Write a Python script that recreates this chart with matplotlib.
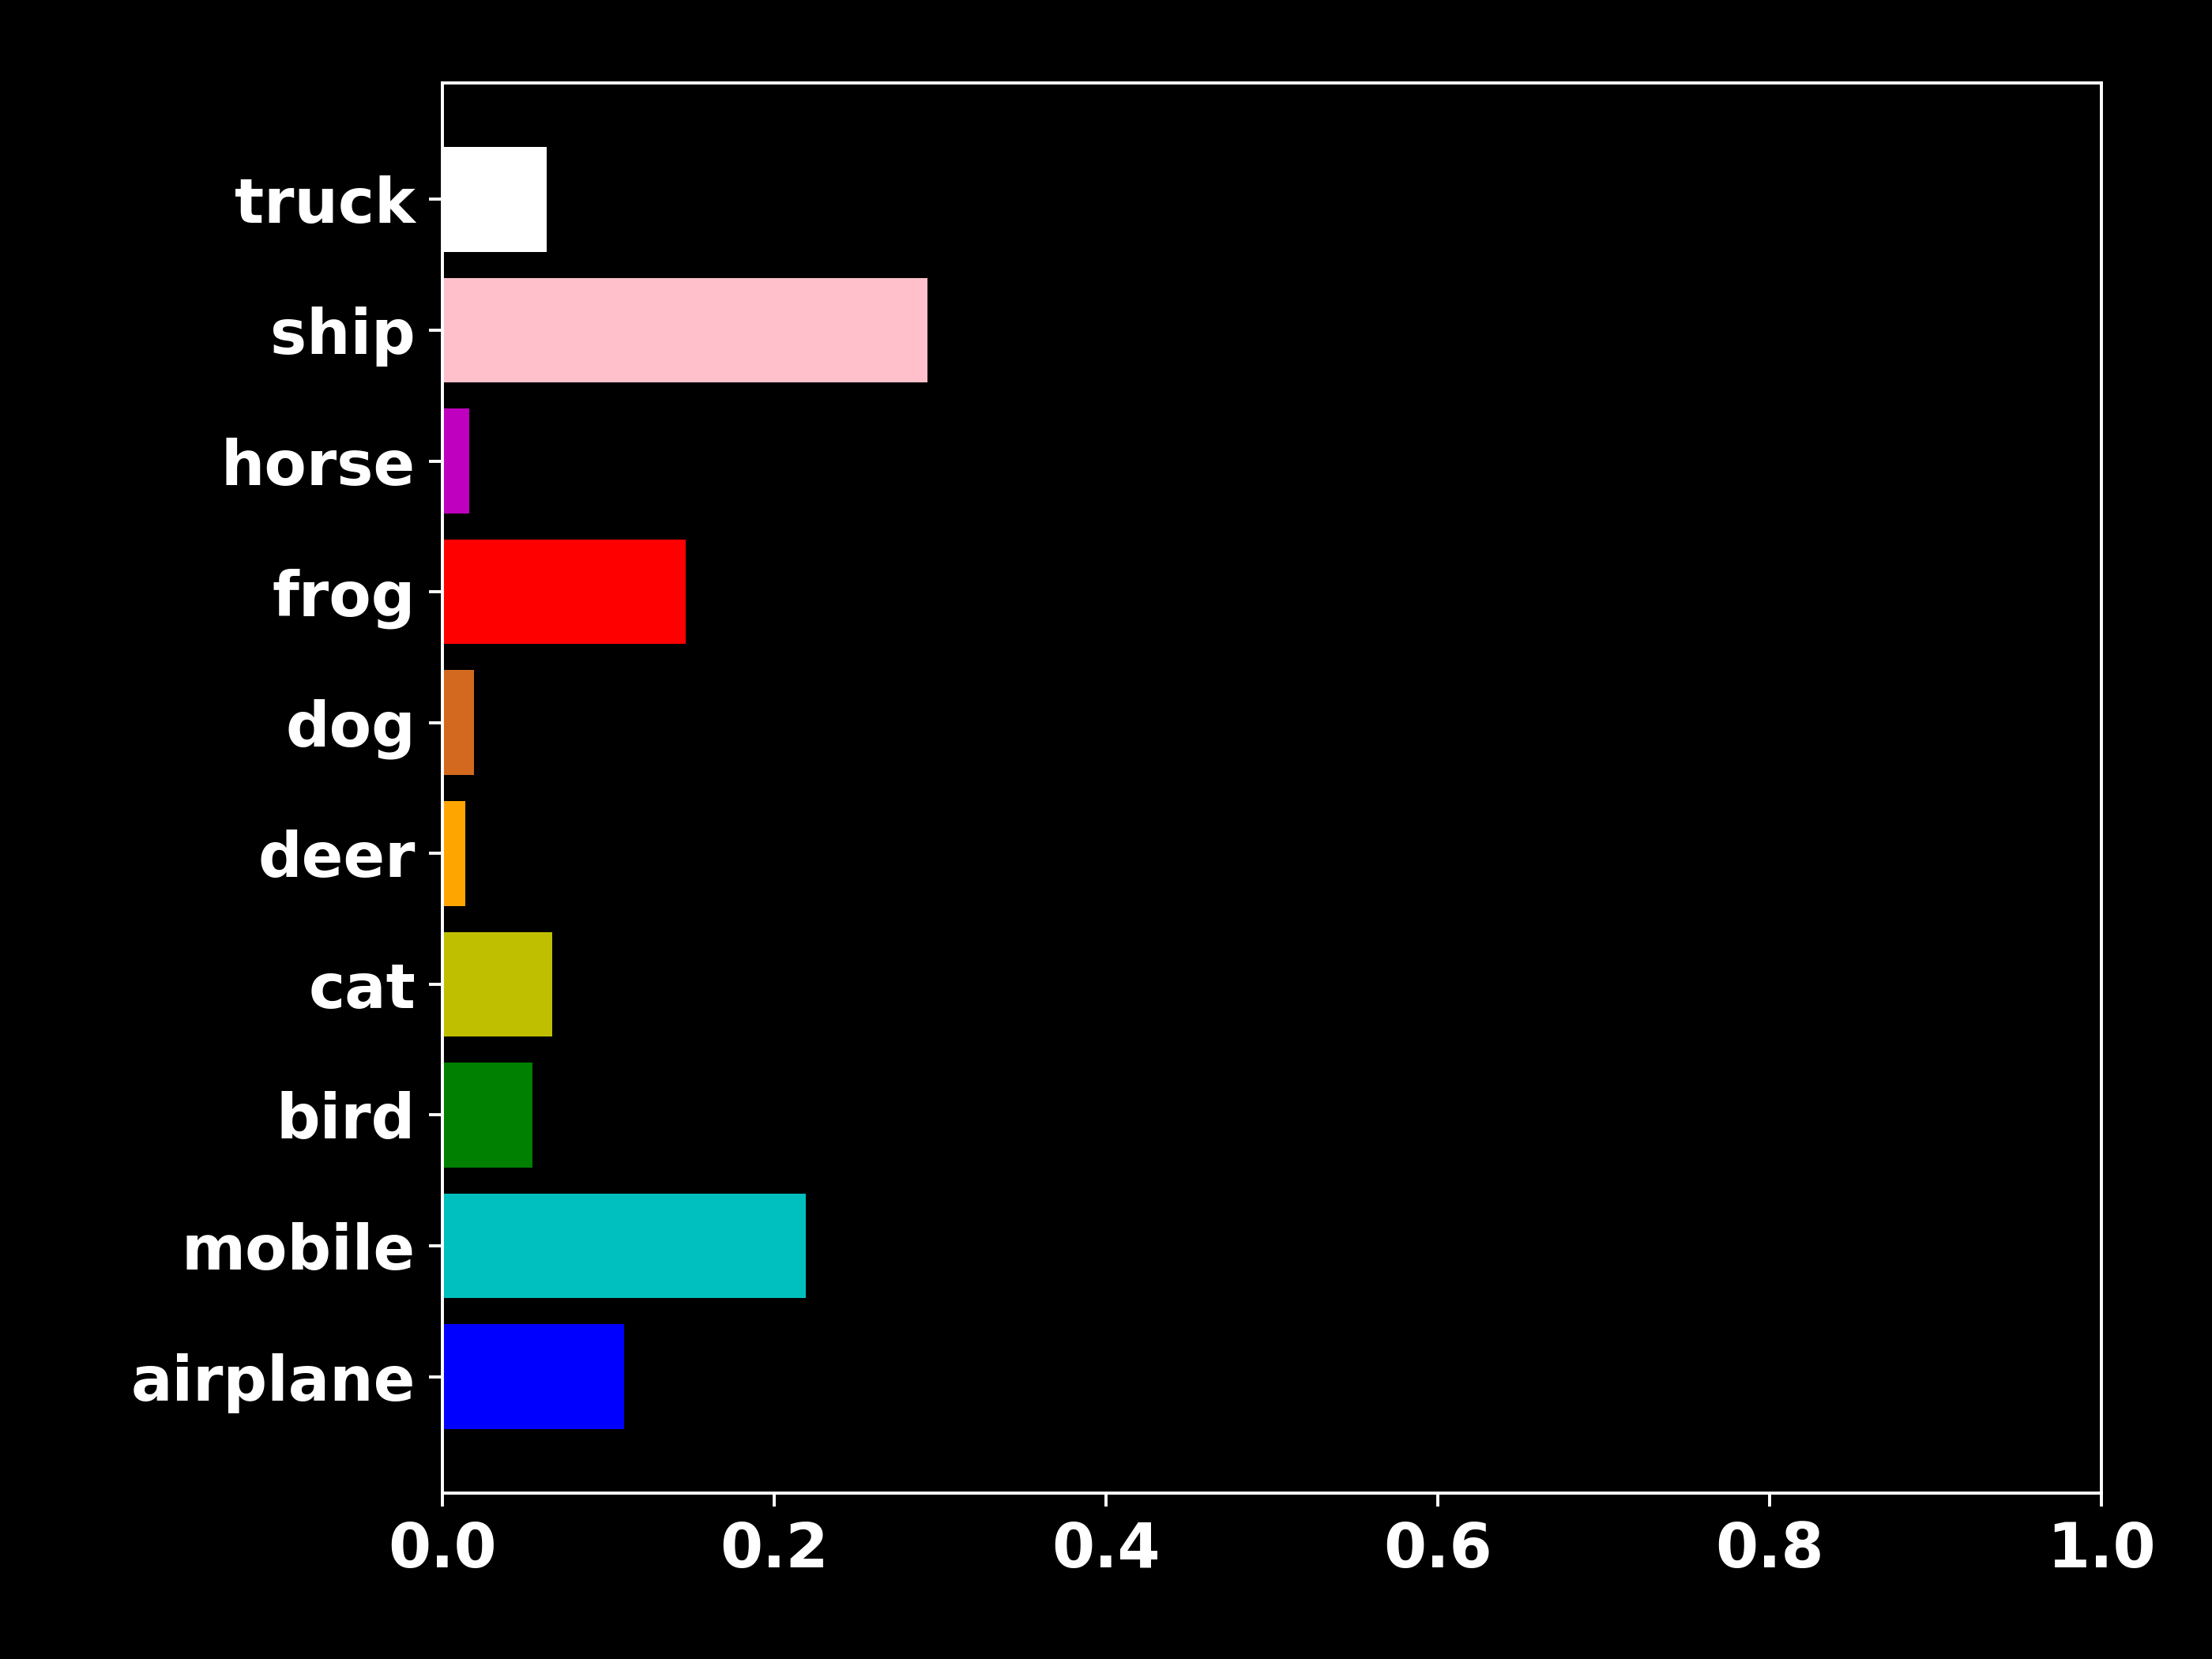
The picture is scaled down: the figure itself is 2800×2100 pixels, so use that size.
import numpy as np
import matplotlib
matplotlib.use('Agg')
import matplotlib.pyplot as plt

classes = ['airplane', 'mobile', 'bird', 'cat', 'deer', 'dog', 'frog', 'horse', 'ship', 'truck']
probs = [0.1095, 0.219, 0.0543, 0.0662, 0.0138, 0.019, 0.1467, 0.0162, 0.2924, 0.0629]
colors = ['b', 'c', 'g', 'y', 'orange', 'chocolate', 'r', 'm', 'pink', 'white']

plt.style.use('dark_background')
plt.rcParams.update({'font.size': 16, 'font.weight': 'bold'})

fig, ax = plt.subplots(figsize=(8, 6), dpi=350)
fig.subplots_adjust(left=0.2, right=0.95, top=0.95, bottom=0.1)
y = np.arange(len(classes))
ax.barh(y, probs, color=colors)
ax.set_yticks(y)
ax.set_yticklabels(classes, fontweight='bold')
ax.set_xlim(0, 1)
for lab in ax.get_xticklabels():
    lab.set_fontweight('bold')
fig.savefig('out.png', dpi=350)
